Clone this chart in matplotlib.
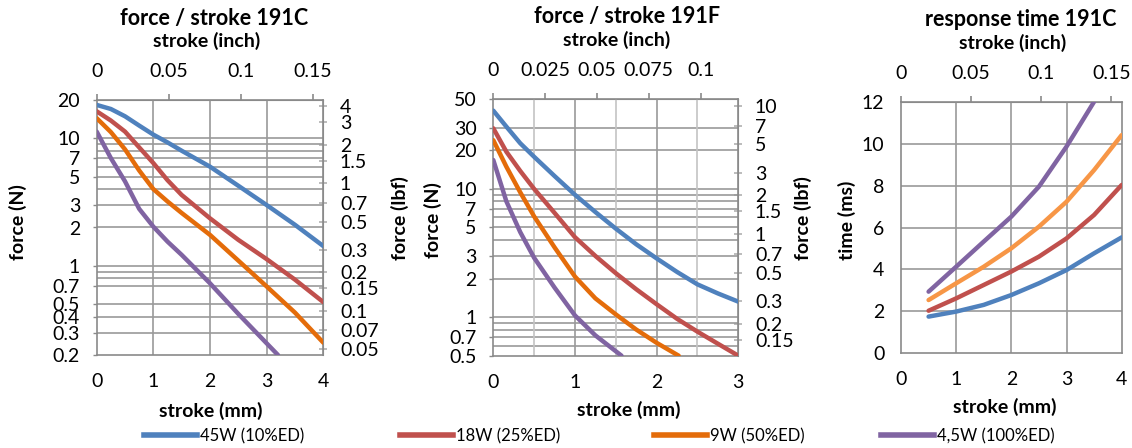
import matplotlib
matplotlib.use('Agg')
import matplotlib.pyplot as plt
from matplotlib.lines import Line2D

plt.rcParams['font.family'] = ['Lato', 'DejaVu Sans']

# ---------------- data ----------------
series_names = ['45W (10%ED)', '18W (25%ED)', '9W (50%ED)', '4,5W (100%ED)']
colors_force = ['#4F81BD', '#C0504D', '#E46C0A', '#8064A2']
colors_time = ['#4F81BD', '#C0504D', '#F79646', '#8064A2']

# panel 1: force / stroke 191C (mm, N)
c_x = [0, 0.25, 0.5, 0.75, 1.0, 1.25, 1.5, 2.0, 2.5, 3.0, 3.5, 4.0]
c_45w = [18.3, 17.0, 14.9, 12.6, 10.7, 9.3, 8.0, 6.0, 4.25, 3.0, 2.1, 1.43]
c_18w = [16.3, 13.8, 11.3, 8.5, 6.4, 4.7, 3.6, 2.36, 1.6, 1.13, 0.78, 0.52]
c_9w = [14.4, 11.2, 8.2, 5.6, 4.0, 3.2, 2.6, 1.75, 1.1, 0.69, 0.43, 0.25]
c_x_45 = [0, 0.25, 0.5, 0.75, 1.0, 1.25, 1.5, 2.0, 2.5, 3.0, 3.2]
c_4w5 = [11.3, 7.0, 4.6, 2.8, 2.03, 1.55, 1.22, 0.73, 0.42, 0.247, 0.2]

# panel 2: force / stroke 191F (mm, N)
f_x = [0, 0.16, 0.33, 0.5, 0.75, 1.0, 1.25, 1.5, 1.75, 2.0, 2.25, 2.5, 2.75, 3.0]
f_45w = [40.8, 30.6, 22.7, 17.8, 12.6, 9.0, 6.6, 4.9, 3.7, 2.87, 2.25, 1.8, 1.53, 1.32]
f_18w = [29.7, 19.5, 13.8, 10.0, 6.5, 4.2, 3.0, 2.2, 1.65, 1.26, 0.97, 0.77, 0.62, 0.5]
f_x_9 = [0, 0.16, 0.33, 0.5, 0.75, 1.0, 1.25, 1.5, 1.75, 2.0, 2.27]
f_9w = [24.0, 14.9, 9.4, 6.1, 3.5, 2.07, 1.40, 1.05, 0.80, 0.63, 0.5]
f_x_45 = [0, 0.16, 0.33, 0.5, 0.75, 1.0, 1.25, 1.57]
f_4w5 = [16.8, 8.0, 4.6, 2.9, 1.7, 1.03, 0.72, 0.5]

# panel 3: response time 191C (mm, ms)
t_x = [0.5, 1.0, 1.5, 2.0, 2.5, 3.0, 3.5, 4.0]
t_45w = [1.75, 1.99, 2.31, 2.78, 3.34, 3.97, 4.77, 5.53]
t_18w = [2.03, 2.62, 3.26, 3.90, 4.61, 5.48, 6.60, 8.03]
t_9w = [2.54, 3.34, 4.13, 5.01, 6.04, 7.23, 8.74, 10.41]
t_x_45 = [0.5, 1.0, 1.5, 2.0, 2.5, 3.0, 3.5]
t_4w5 = [2.94, 4.13, 5.33, 6.52, 7.95, 9.86, 12.0]

# axis ticks / labels
c_yticks = [20, 10, 7, 5, 3, 2, 1, 0.7, 0.5, 0.4, 0.3, 0.2]
c_ygrid = [10, 9, 8, 7, 6, 5, 4, 3, 2, 1, 0.9, 0.8, 0.7, 0.5, 0.4, 0.3]
c_lbf = [4, 3, 2, 1.5, 1, 0.7, 0.5, 0.3, 0.2, 0.15, 0.1, 0.07, 0.05]
c_inch = [0, 0.05, 0.1, 0.15]
f_yticks = [50, 30, 20, 10, 7, 5, 3, 2, 1, 0.7, 0.5]
f_ygrid = [30, 20, 10, 9, 8, 7, 6, 5, 4, 3, 2, 1, 0.9, 0.8, 0.7, 0.6]
f_lbf = [10, 7, 5, 3, 2, 1.5, 1, 0.7, 0.5, 0.3, 0.2, 0.15]
f_inch = [0, 0.025, 0.05, 0.075, 0.1]
t_yticks = [0, 2, 4, 6, 8, 10, 12]
t_inch = [0, 0.05, 0.1, 0.15]

N_PER_LBF = 4.448
MM_PER_INCH = 25.4

# ---------------- figure ----------------
W, H = 1132, 448
fig = plt.figure(figsize=(W / 100, H / 100), dpi=100)

GRID = '#9a9a9a'
GRID_LIGHT = '#c4c4c4'
SPINE = '#8a8a8a'
TICK_FS = 14
LABEL_FS = 14
TITLE_FS = 15.5
LW = 3.2


def px_axes(x0, x1, y0, y1):
    return fig.add_axes([x0 / W, 1 - y1 / H, (x1 - x0) / W, (y1 - y0) / H])


def fmt(v):
    return ('%g' % v)


def style_common(ax, xmax, xticks, inch_ticks, left_pad):
    ax.set_xlim(0, xmax)
    ax.set_xticks(xticks)
    ax.set_xticklabels([fmt(v) for v in xticks])
    ax.tick_params(axis='x', which='both', length=0, pad=13, labelsize=TICK_FS)
    ax.tick_params(axis='y', which='both', direction='out', length=3, width=1,
                   color=SPINE, pad=left_pad, labelsize=TICK_FS)
    for s in ax.spines.values():
        s.set_color(SPINE)
        s.set_linewidth(1.2)
    sec = ax.secondary_xaxis('top', functions=(lambda x: x / MM_PER_INCH,
                                               lambda x: x * MM_PER_INCH))
    sec.set_xticks(inch_ticks)
    sec.set_xticklabels([fmt(v) for v in inch_ticks])
    sec.tick_params(axis='x', direction='out', length=4.5, width=1.2, color=SPINE,
                    pad=10, labelsize=TICK_FS)
    sec.spines['top'].set_color(SPINE)
    return sec


def add_lbf_axis(ax, lbf_ticks):
    sec = ax.secondary_yaxis('right', functions=(lambda f: f / N_PER_LBF,
                                                 lambda f: f * N_PER_LBF))
    sec.set_yticks(lbf_ticks)
    sec.set_yticklabels([fmt(v) for v in lbf_ticks])
    sec.yaxis.set_minor_locator(matplotlib.ticker.NullLocator())
    sec.tick_params(axis='y', direction='inout', length=6, width=1.2, color='#b0b0b0',
                    pad=9, labelsize=TICK_FS)
    sec.spines['right'].set_color(SPINE)
    return sec


# ---- panel 1 ----
ax1 = px_axes(96.7, 323.3, 100, 355)
ax1.set_yscale('log')
ax1.set_ylim(0.2, 20)
for g in c_ygrid:
    ax1.axhline(g, color=GRID, lw=1.2, zorder=0.5)
for g in [1, 2, 3]:
    ax1.axvline(g, color=GRID, lw=1.2, zorder=0.5)
ax1.set_yticks(c_yticks)
ax1.set_yticklabels([fmt(v) for v in c_yticks])
ax1.yaxis.set_minor_locator(matplotlib.ticker.NullLocator())
style_common(ax1, 4, [0, 1, 2, 3, 4], c_inch, 9)
add_lbf_axis(ax1, c_lbf)
for xs, ys, col in [(c_x, c_45w, colors_force[0]), (c_x, c_18w, colors_force[1]),
                    (c_x, c_9w, colors_force[2]), (c_x_45, c_4w5, colors_force[3])]:
    ax1.plot(xs, ys, color=col, lw=LW, solid_capstyle='round',
             solid_joinstyle='round', zorder=3)

# ---- panel 2 ----
ax2 = px_axes(493.3, 738.3, 99.3, 355.7)
ax2.set_yscale('log')
ax2.set_ylim(0.5, 50)
for g in f_ygrid:
    ax2.axhline(g, color=GRID, lw=1.2, zorder=0.5)
for g in [0.5, 1.5, 2.5]:
    ax2.axvline(g, color=GRID_LIGHT, lw=1.2, zorder=0.5)
for g in [1, 2]:
    ax2.axvline(g, color=GRID, lw=1.2, zorder=0.5)
ax2.set_yticks(f_yticks)
ax2.set_yticklabels([fmt(v) for v in f_yticks])
ax2.yaxis.set_minor_locator(matplotlib.ticker.NullLocator())
style_common(ax2, 3, [0, 1, 2, 3], f_inch, 9)
add_lbf_axis(ax2, f_lbf)
for xs, ys, col in [(f_x, f_45w, colors_force[0]), (f_x, f_18w, colors_force[1]),
                    (f_x_9, f_9w, colors_force[2]), (f_x_45, f_4w5, colors_force[3])]:
    ax2.plot(xs, ys, color=col, lw=LW, solid_capstyle='round',
             solid_joinstyle='round', zorder=3)

# ---- panel 3 ----
ax3 = px_axes(901, 1121.7, 101.7, 353.3)
ax3.set_ylim(0, 12)
for g in [2, 4, 6, 8, 10]:
    ax3.axhline(g, color=GRID, lw=1.2, zorder=0.5)
for g in [1, 2, 3]:
    ax3.axvline(g, color=GRID, lw=1.2, zorder=0.5)
ax3.set_yticks(t_yticks)
ax3.set_yticklabels([fmt(v) for v in t_yticks])
style_common(ax3, 4, [0, 1, 2, 3, 4], t_inch, 12)
ax3.tick_params(axis='y', length=0)
for xs, ys, col in [(t_x, t_45w, colors_time[0]), (t_x, t_18w, colors_time[1]),
                    (t_x, t_9w, colors_time[2]), (t_x_45, t_4w5, colors_time[3])]:
    ax3.plot(xs, ys, color=col, lw=LW, solid_capstyle='round',
             solid_joinstyle='round', zorder=3, clip_on=True)

# ---- texts ----
def ftext(x, y, s, size, rot=0):
    fig.text(x / W, 1 - y / H, s, fontsize=size, fontweight='bold',
             ha='center', va='center', rotation=rot)

ftext(214, 19, 'force / stroke 191C', TITLE_FS)
ftext(207, 41, 'stroke (inch)', LABEL_FS)
ftext(627, 17, 'force / stroke 191F', TITLE_FS)
ftext(617, 40, 'stroke (inch)', LABEL_FS)
ftext(1021, 20, 'response time 191C', TITLE_FS)
ftext(1013, 43, 'stroke (inch)', LABEL_FS)

ftext(211, 411, 'stroke (mm)', LABEL_FS)
ftext(629, 410, 'stroke (mm)', LABEL_FS)
ftext(1005, 407, 'stroke (mm)', LABEL_FS)

ftext(18, 222, 'force (N)', LABEL_FS, 90)
ftext(400, 218, 'force (lbf)', LABEL_FS, 90)
ftext(433, 220, 'force (N)', LABEL_FS, 90)
ftext(803, 218, 'force (lbf)', LABEL_FS, 90)
ftext(847, 220, 'time (ms)', LABEL_FS, 90)

# ---- legend ----
leg_x = [144, 400, 654, 881]
for name, col, lx in zip(series_names, colors_force, leg_x):
    h = Line2D([0], [0], color=col, lw=4)
    fig.legend([h], [name], loc='center left', bbox_to_anchor=(lx / W, 1 - 436 / H),
               frameon=False, fontsize=12, handlelength=3.2, handletextpad=0.15,
               borderpad=0, borderaxespad=0)

fig.savefig('out.png', dpi=100)
